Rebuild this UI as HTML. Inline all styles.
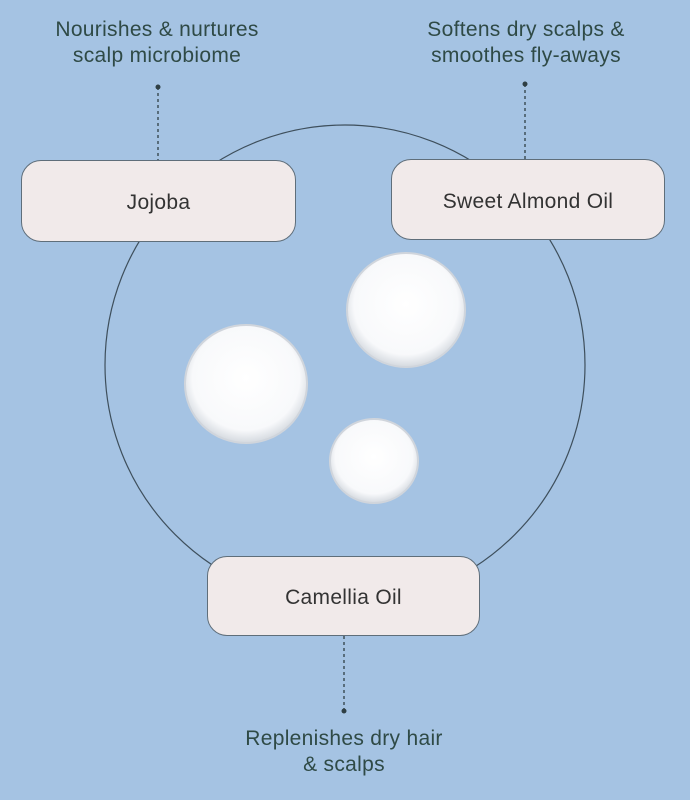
<!DOCTYPE html>
<html><head><meta charset="utf-8"><style>
html,body{margin:0;padding:0}
body{width:690px;height:800px;background:#a5c3e3;position:relative;overflow:hidden;font-family:"Liberation Sans",sans-serif;color:#2f4a46}
.t{position:absolute;text-align:center;font-size:21px;line-height:26px;width:340px;letter-spacing:0.3px}
.b{position:absolute;background:#f1eaea;border:1.5px solid #5f6e7a;border-radius:20px;box-sizing:border-box;display:flex;align-items:center;justify-content:center;font-size:21px;color:#333;padding-top:4px;letter-spacing:0.3px}
</style></head><body>
<svg width="690" height="800" style="position:absolute;left:0;top:0">
<defs>
<radialGradient id="g" cx="50%" cy="45%" r="55%">
<stop offset="0" stop-color="#ffffff"/><stop offset="0.8" stop-color="#f8f9fb"/><stop offset="1" stop-color="#d4d9df"/>
</radialGradient>
</defs>
<circle cx="345" cy="365" r="240" fill="none" stroke="#3e4f5c" stroke-width="1.2"/>
<line x1="158" y1="87" x2="158" y2="160" stroke="#2f3f44" stroke-width="1.3" stroke-dasharray="3,3"/>
<circle cx="158" cy="87" r="2.5" fill="#2f3f44"/>
<line x1="525" y1="84" x2="525" y2="159" stroke="#2f3f44" stroke-width="1.3" stroke-dasharray="3,3"/>
<circle cx="525" cy="84" r="2.5" fill="#2f3f44"/>
<line x1="344" y1="636" x2="344" y2="711" stroke="#2f3f44" stroke-width="1.3" stroke-dasharray="3,3"/>
<circle cx="344" cy="711" r="2.5" fill="#2f3f44"/>
<ellipse cx="246" cy="384" rx="61" ry="59" fill="url(#g)" stroke="#d0d5dc" stroke-width="2"/>
<ellipse cx="406" cy="310" rx="59" ry="57" fill="url(#g)" stroke="#d0d5dc" stroke-width="2"/>
<ellipse cx="374" cy="461" rx="44" ry="42" fill="url(#g)" stroke="#d0d5dc" stroke-width="2"/>
</svg>
<div class="t" style="left:-13px;top:17px">Nourishes &amp; nurtures<br>scalp microbiome</div>
<div class="t" style="left:356px;top:17px">Softens dry scalps &amp;<br>smoothes fly-aways</div>
<div class="t" style="left:174px;top:726px">Replenishes dry hair<br>&amp; scalps</div>
<div class="b" style="left:21px;top:160px;width:275px;height:82px">Jojoba</div>
<div class="b" style="left:391px;top:159px;width:274px;height:81px">Sweet Almond Oil</div>
<div class="b" style="left:207px;top:556px;width:273px;height:80px">Camellia Oil</div>
</body></html>
